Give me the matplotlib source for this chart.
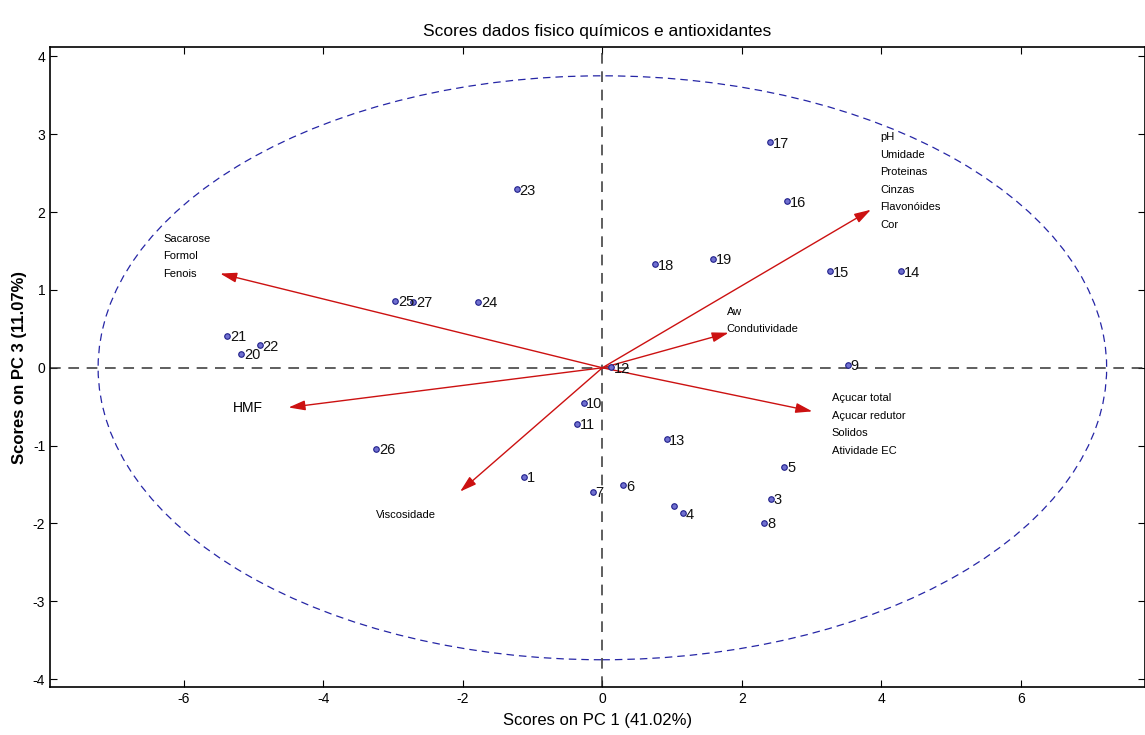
import matplotlib.pyplot as plt
import matplotlib as mpl
from matplotlib.patches import Ellipse

mpl.rc('font', family='Liberation Sans')
mpl.rc('axes', unicode_minus=False)

# scores (PC1, PC3) and sample labels
labels = ['1', '', '3', '4', '5', '6', '7', '8', '9', '10', '11', '12', '13', '14',
          '15', '16', '17', '18', '19', '20', '21', '22', '23', '24', '25', '26', '27']
pc1 = [-1.12, 1.02, 2.42, 1.15, 2.61, 0.30, -0.14, 2.32, 3.52, -0.27, -0.36, 0.13, 0.92, 4.28,
       3.27, 2.65, 2.41, 0.76, 1.59, -5.18, -5.38, -4.91, -1.23, -1.78, -2.97, -3.24, -2.71]
pc3 = [-1.40, -1.77, -1.68, -1.87, -1.27, -1.51, -1.59, -1.99, 0.04, -0.45, -0.72, 0.01, -0.92, 1.24,
       1.24, 2.14, 2.90, 1.33, 1.40, 0.18, 0.41, 0.29, 2.29, 0.85, 0.86, -1.04, 0.85]

# loadings arrows (tip coordinates) and their text
arrow_x = [-5.48, -4.50, -2.04, 3.01, 1.81, 3.85]
arrow_y = [1.21, -0.51, -1.59, -0.56, 0.45, 2.03]
arrow_text = [['Sacarose', 'Formol', 'Fenois'],
              ['HMF'],
              ['Viscosidade'],
              ['Açucar total', 'Açucar redutor', 'Solidos', 'Atividade EC'],
              ['Aw', 'Condutividade'],
              ['pH', 'Umidade', 'Proteinas', 'Cinzas', 'Flavonóides', 'Cor']]
text_pos = [(-6.3, 1.66), (-5.3, -0.52), (-3.25, -1.89), (3.29, -0.39), (1.78, 0.72), (3.98, 2.96)]
text_size = [8, 10, 8, 8, 8, 8]

ellipse_w, ellipse_h = 7.23, 3.75

fig = plt.figure(figsize=(11.45, 7.35), dpi=100)
ax = fig.add_axes([50 / 1145, 48 / 735, 1095 / 1145, 640 / 735])

ax.add_patch(Ellipse((0, 0), 2 * ellipse_w, 2 * ellipse_h, fill=False,
                     ec='#2626a6', lw=0.9, ls=(0, (6, 4))))
ax.axhline(0, c='#333333', ls=(0, (7, 5)), lw=1.1)
ax.axvline(0, c='#333333', ls=(0, (7, 5)), lw=1.1)

for x, y in zip(arrow_x, arrow_y):
    ax.annotate('', xy=(x, y), xytext=(0, 0),
                arrowprops=dict(arrowstyle='-|>,head_length=1.0,head_width=0.3',
                                color='#cc1111', lw=1.0, shrinkA=0, shrinkB=0))

for lines, (tx, ty), fs in zip(arrow_text, text_pos, text_size):
    for i, line in enumerate(lines):
        ax.text(tx, ty - i * 0.225, line, fontsize=fs, va='center', ha='left')

ax.scatter(pc1, pc3, s=16, c='#7070d0', edgecolors='#20208a', linewidths=0.8, zorder=3)
for x, y, lab in zip(pc1, pc3, labels):
    ax.text(x + 0.04, y - 0.02, lab, fontsize=10.5, va='center', ha='left', color='#111111')

ax.set_xlim(-7.92, 7.78)
ax.set_ylim(-4.1, 4.12)
ax.set_xticks([-6, -4, -2, 0, 2, 4, 6])
ax.set_yticks([-4, -3, -2, -1, 0, 1, 2, 3, 4])
ax.tick_params(direction='in', top=True, right=True, labelsize=10, length=5)
for s in ax.spines.values():
    s.set_linewidth(1.2)

ax.set_xlabel('Scores on PC 1 (41.02%)', fontsize=12, labelpad=5)
ax.set_ylabel('Scores on PC 3 (11.07%)', fontsize=12, fontweight='bold', labelpad=4)
ax.set_title('Scores dados fisico químicos e antioxidantes', fontsize=12.5, pad=8)

fig.savefig('out.png')
